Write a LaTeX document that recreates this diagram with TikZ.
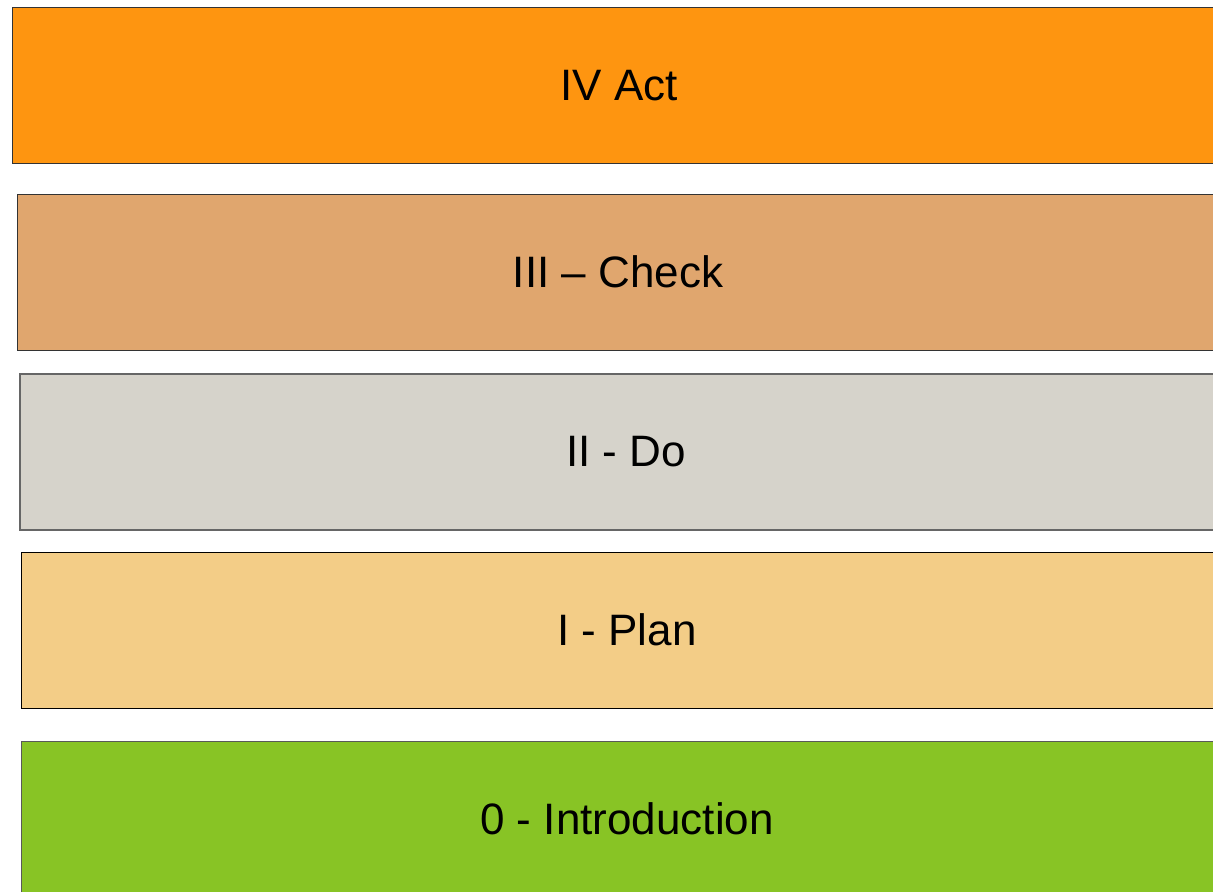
\documentclass[tikz,border=0pt]{standalone}
\usepackage{fontspec}
\setmainfont{Liberation Sans}
\definecolor{cact}{HTML}{FE9510}
\definecolor{ccheck}{HTML}{E0A66E}
\definecolor{cdo}{HTML}{D6D3CB}
\definecolor{cplan}{HTML}{F3CD87}
\definecolor{cintro}{HTML}{88C425}
\tikzset{
  band/.style={draw=black!80, line width=0.5pt, minimum height=78pt, inner sep=0pt,
    font=\fontsize{22}{26}\selectfont, text=black}
}
\begin{document}
\begin{tikzpicture}[x=0.5pt,y=-0.5pt]
\useasboundingbox (0,0) rectangle (1213,891);
\clip (0,0) rectangle (1213,891);
\node[band, fill=cact, minimum width=607pt] (act) at (619,85.5) {IV Act};
\node[band, fill=ccheck, minimum width=600.5pt] (check) at (618,272) {III – Check};
\node[band, fill=cdo, draw=black!60, line width=0.7pt, minimum width=606pt] (do) at (626,452) {II - Do};
\node[band, fill=cplan, draw=black, minimum width=605.5pt] (plan) at (627,630) {I - Plan};
\node[band, fill=cintro, draw=black!65, minimum width=605.5pt] (intro) at (627,819) {0 - Introduction};
\end{tikzpicture}
\end{document}
